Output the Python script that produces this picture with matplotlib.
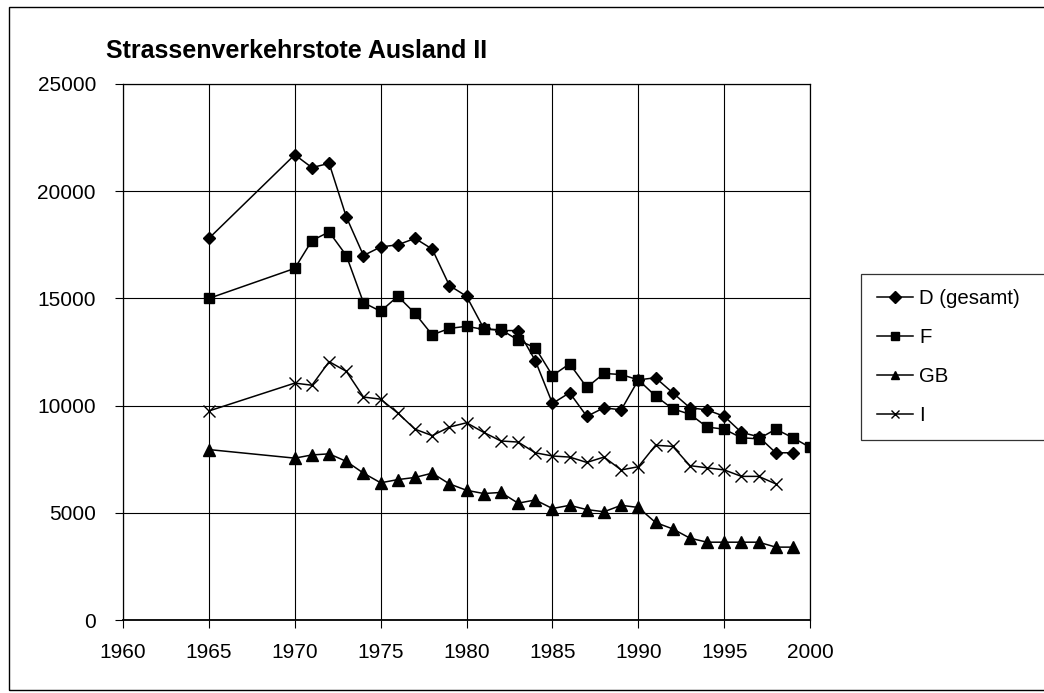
"""
Strassenverkehrstote Ausland II: road deaths in D, F, GB and I, 1965-2000.
"""

import matplotlib

matplotlib.use("Agg")
import matplotlib.pyplot as plt
from matplotlib.patches import Rectangle

plt.rcParams["font.family"] = ["Liberation Sans", "DejaVu Sans"]

years_d = [1965] + list(range(1970, 2000))
deaths_d = [17800, 21700, 21100, 21300, 18800, 17000, 17400, 17500, 17800, 17300,
            15600, 15100, 13600, 13500, 13500, 12100, 10100, 10600, 9500, 9900,
            9800, 11200, 11300, 10600, 9900, 9800, 9500, 8750, 8550, 7800, 7800]

years_f = [1965] + list(range(1970, 2001))
deaths_f = [15000, 16400, 17700, 18100, 17000, 14800, 14400, 15100, 14300, 13300,
            13600, 13700, 13550, 13550, 13050, 12700, 11400, 11950, 10850, 11500,
            11450, 11200, 10450, 9850, 9600, 9000, 8900, 8500, 8450, 8900,
            8500, 8050]

years_gb = [1965] + list(range(1970, 2000))
deaths_gb = [7950, 7550, 7700, 7750, 7400, 6850, 6400, 6550, 6650, 6850,
             6350, 6050, 5900, 5950, 5450, 5600, 5200, 5350, 5150, 5050,
             5350, 5250, 4550, 4250, 3820, 3630, 3630, 3630, 3630, 3400, 3400]

years_i = [1965] + list(range(1970, 1999))
deaths_i = [9750, 11050, 10950, 12050, 11600, 10400, 10300, 9650, 8900, 8600,
            9000, 9200, 8750, 8350, 8300, 7800, 7650, 7600, 7350, 7600,
            7000, 7150, 8150, 8100, 7200, 7100, 7000, 6700, 6700, 6350]

x_ticks = list(range(1960, 2001, 5))
y_ticks = list(range(0, 25001, 5000))

fig = plt.figure(figsize=(10.44, 6.93), dpi=100)
ax = fig.add_axes([0.1178, 0.1053, 0.6582, 0.7735])

line_kw = dict(color="black", linewidth=1.1)
ax.plot(years_d, deaths_d, marker="D", markersize=6.5, label="D (gesamt)", **line_kw)
ax.plot(years_f, deaths_f, marker="s", markersize=7.5, label="F", **line_kw)
ax.plot(years_gb, deaths_gb, marker="^", markersize=8, label="GB", **line_kw)
ax.plot(years_i, deaths_i, marker="x", markersize=8, markeredgewidth=1.0,
        label="I", **line_kw)

ax.set_xlim(1960, 2000)
ax.set_ylim(0, 25000)
ax.set_xticks(x_ticks)
ax.set_yticks(y_ticks)
ax.grid(True, color="black", linewidth=0.8)
ax.set_axisbelow(True)
for s in ax.spines.values():
    s.set_color("black")
    s.set_linewidth(0.9)
ax.spines["bottom"].set_linewidth(1.3)
ax.tick_params(axis="both", direction="out", length=5.5, width=0.8,
               labelsize=15, color="black")
ax.tick_params(axis="x", pad=11)
ax.tick_params(axis="y", pad=14)

fig.text(0.1015, 0.927, "Strassenverkehrstote Ausland II", fontsize=18,
         fontweight="bold", ha="left", va="center")

leg = ax.legend(loc="upper left", bbox_to_anchor=(0.825, 0.378, 0.2, 0.227),
                bbox_transform=fig.transFigure, mode="expand", fontsize=14.7,
                frameon=True, fancybox=False, shadow=False, handlelength=1.8,
                labelspacing=0.98, borderpad=0.75, handletextpad=0.3,
                borderaxespad=0)
leg.get_frame().set_edgecolor("black")
leg.get_frame().set_linewidth(0.9)
for h in leg.legend_handles:
    h.set_markersize(6)

# outer chart frame
fig.patches.append(Rectangle((9 / 1044, 3 / 693), 1.02, 1 - 10 / 693,
                             transform=fig.transFigure, fill=False,
                             edgecolor="black", linewidth=1.0, clip_on=False))

fig.savefig("out.png", dpi=100)
